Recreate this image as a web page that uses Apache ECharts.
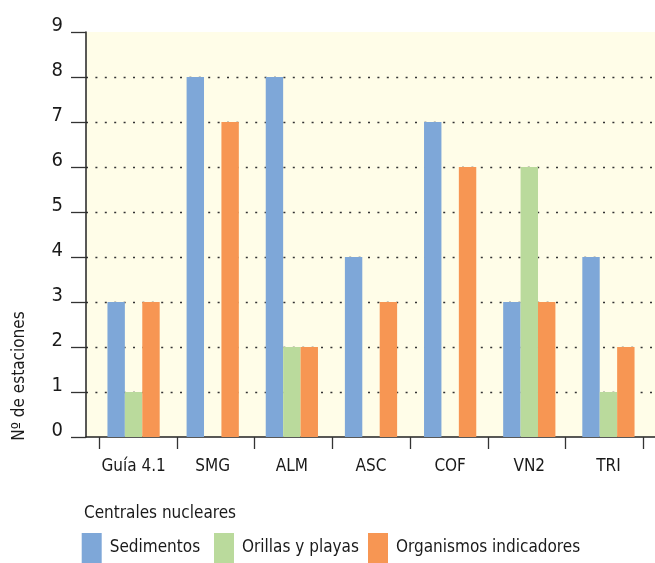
<!DOCTYPE html>
<html>
<head>
<meta charset="utf-8">
<script src="https://cdn.jsdelivr.net/npm/echarts@6/dist/echarts.min.js"></script>
<style>
html,body{margin:0;padding:0;background:#fff;}
#chart{width:655px;height:563px;}
</style>
</head>
<body>
<div id="chart"></div>
<script>
const categories = ['Guía 4.1', 'SMG', 'ALM', 'ASC', 'COF', 'VN2', 'TRI'];
const seriesNames = ['Sedimentos', 'Orillas y playas', 'Organismos indicadores'];
const sedimentos = [3, 8, 8, 4, 7, 3, 4];
const orillas = [1, 0, 2, 0, 0, 6, 1];
const organismos = [3, 7, 2, 3, 6, 3, 2];
const yTicks = [0, 1, 2, 3, 4, 5, 6, 7, 8, 9];
const colors = ['#7ea7d8', '#bada9c', '#f79653'];

const FONT = "'Liberation Sans Narrow', 'DejaVu Sans Condensed', 'Arial Narrow', sans-serif";
const FS = 17;
const chart = echarts.init(document.getElementById('chart'), null, {renderer: 'canvas'});

const valuesList = [sedimentos, orillas, organismos];

const option = {
  animation: false,
  textStyle: {fontFamily: FONT},
  grid: [
    {left: 86, right: 0, top: 32, bottom: 126, show: true, backgroundColor: '#fffde8', borderWidth: 0},
    {left: 94, right: 7, top: 32, bottom: 126},
    {left: 99, right: 11.7, top: 32, bottom: 126}
  ],
  xAxis: [
    {gridIndex: 0, type: 'category', data: categories, boundaryGap: true,
      axisLine: {show: true, lineStyle: {color: '#222', width: 1.5}},
      axisTick: {show: false}, axisLabel: {show: false}, splitLine: {show: false}},
    {gridIndex: 1, type: 'category', data: categories, boundaryGap: true,
      axisLine: {show: false}, axisTick: {show: false},
      axisLabel: {show: true, interval: 0, color: '#1a1a1a', fontSize: FS, fontFamily: FONT, margin: 21}},
    {gridIndex: 2, type: 'category', data: categories, boundaryGap: true,
      axisLine: {show: false},
      axisTick: {show: true, length: 12, lineStyle: {color: '#333', width: 1.3}},
      axisLabel: {show: false}}
  ],
  yAxis: [
    {gridIndex: 0, type: 'value', min: 0, max: 9, interval: 1,
      axisLine: {show: true, lineStyle: {color: '#222', width: 1.5}},
      axisTick: {show: true, length: 15, lineStyle: {color: '#333', width: 1.3}},
      axisLabel: {show: true, color: '#1a1a1a', fontSize: 20, fontFamily: FONT, margin: 23,
        verticalAlign: 'bottom', lineHeight: 13,
        formatter: v => String(yTicks[v] !== undefined ? yTicks[v] : v)},
      splitLine: {show: true, showMinLine: false, showMaxLine: false,
        lineStyle: {color: '#333', width: 1.3, type: [2, 7.4]}}},
    {gridIndex: 1, type: 'value', min: 0, max: 9, show: false},
    {gridIndex: 2, type: 'value', min: 0, max: 9, show: false}
  ],
  legend: seriesNames.map((n, i) => ({
    data: [n], left: [81.7, 214, 368][i], top: 533, itemWidth: 20, itemHeight: 30, itemGap: 0,
    icon: 'rect', padding: 0,
    textStyle: {fontSize: FS, color: '#1a1a1a', fontFamily: FONT, padding: [8, 0, 0, 3]},
    itemStyle: {borderWidth: 0}
  })),
  graphic: [
    {type: 'text', x: 20, y: 376, rotation: Math.PI / 2,
      style: {text: 'Nº de estaciones', fontSize: FS, fontFamily: FONT, fill: '#1a1a1a', align: 'center', verticalAlign: 'middle'}},
    {type: 'text', left: 84, top: 505,
      style: {text: 'Centrales nucleares', fontSize: FS, fontFamily: FONT, fill: '#1a1a1a'}}
  ],
  series: seriesNames.map((n, i) => ({
    name: n, type: 'bar', xAxisIndex: 1, yAxisIndex: 1,
    data: valuesList[i], barGap: '0%', barCategoryGap: '34%',
    itemStyle: {color: colors[i]}
  }))
};
chart.setOption(option);
</script>
</body>
</html>
